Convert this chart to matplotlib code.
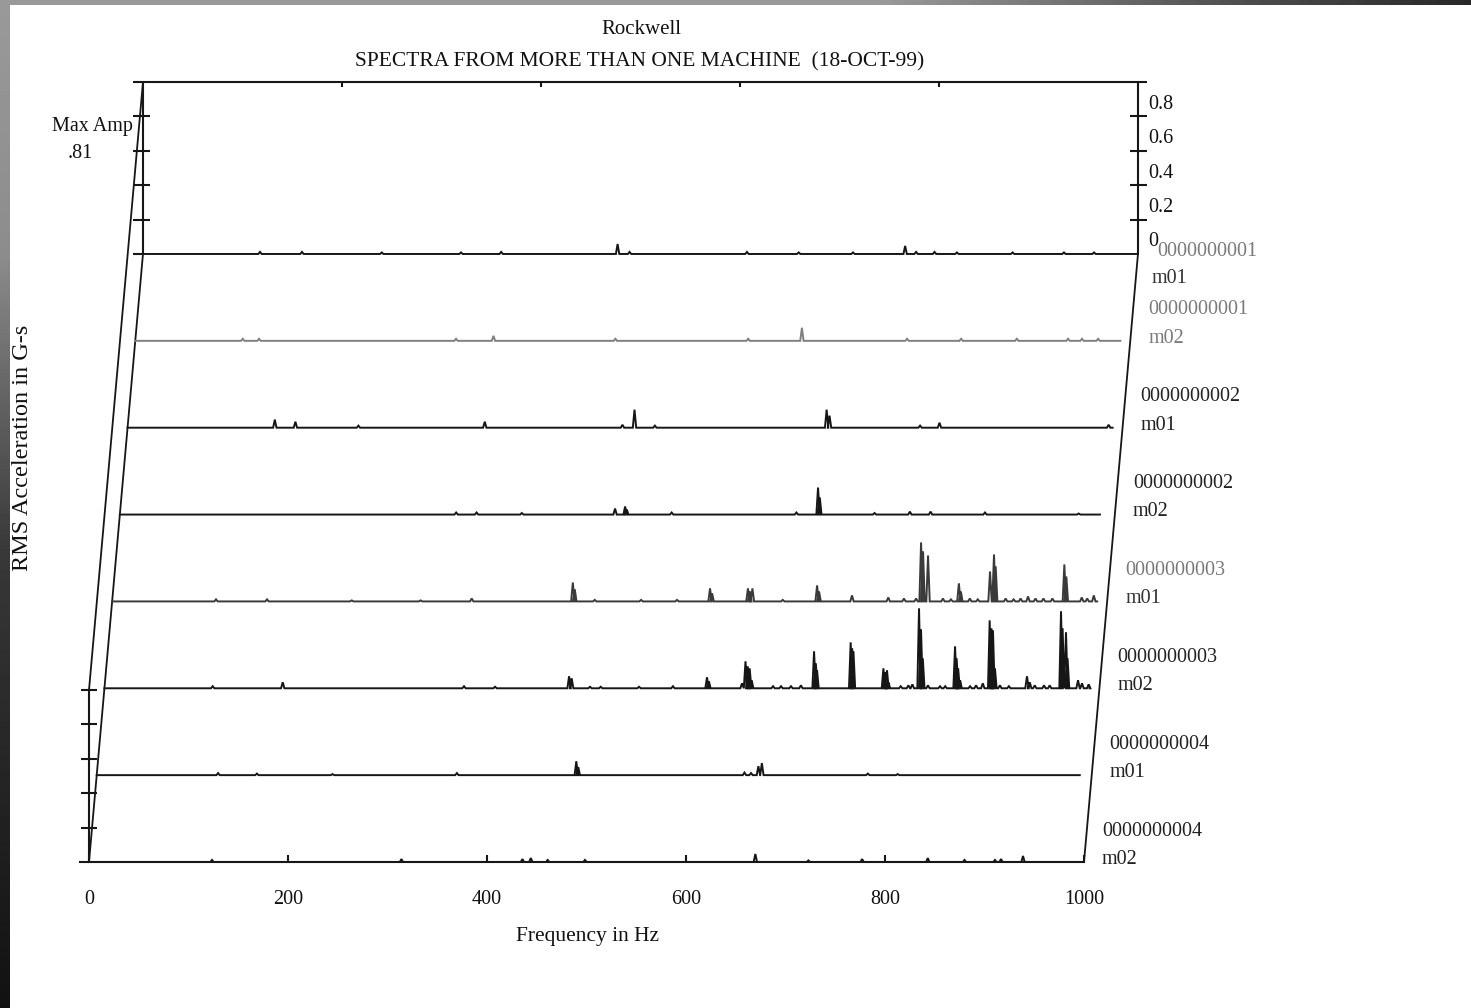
import numpy as np
import matplotlib
matplotlib.use("Agg")
import matplotlib.pyplot as plt

plt.rcParams['font.family'] = ['Liberation Serif', 'DejaVu Serif']

# ---------------- data ----------------
# traces listed back (first) to front (last)
trace_ids = ["0000000001", "0000000001", "0000000002", "0000000002",
             "0000000003", "0000000003", "0000000004", "0000000004"]
trace_meas = ["m01", "m02", "m01", "m02", "m01", "m02", "m01", "m02"]
trace_fmax = [1000, 990, 990, 985, 990, 990, 988, 1000]

freq_ticks = [0, 200, 400, 600, 800, 1000]
amp_ticks = [0, 0.2, 0.4, 0.6, 0.8]
amp_tick_labels = ["0", "0.2", "0.4", "0.6", "0.8"]

# spectral peaks: frequency (Hz) and RMS acceleration (G-s)
pk1_f = [117.6, 159.8, 240, 319.6, 360, 477, 489, 607, 659, 713.6, 766, 777, 795.5, 818, 874, 925.6, 955.8]
pk1_a = [0.012, 0.012, 0.009, 0.009, 0.012, 0.058, 0.012, 0.012, 0.009, 0.009, 0.047, 0.012, 0.012, 0.009, 0.009, 0.009, 0.009]

pk2_f = [108, 124.4, 322.4, 360, 482.5, 616, 670, 775.7, 830, 886, 937.5, 951.5, 967.7]
pk2_a = [0.012, 0.012, 0.012, 0.029, 0.012, 0.012, 0.076, 0.012, 0.012, 0.012, 0.012, 0.012, 0.012]

pk3_f = [148, 168.7, 232, 359, 497.4, 509.5, 530, 702.6, 705.5, 796.5, 816, 986]
pk3_a = [0.047, 0.035, 0.012, 0.035, 0.017, 0.105, 0.012, 0.105, 0.070, 0.012, 0.029, 0.017]

pk4_f = [338, 358.5, 404, 497.7, 507.8, 509.5, 554.6, 680, 701.7, 703.5, 758.5, 794, 814.8, 869.5, 963.6]
pk4_a = [0.012, 0.012, 0.009, 0.035, 0.047, 0.029, 0.012, 0.012, 0.157, 0.099, 0.009, 0.017, 0.017, 0.012, 0.006]

pk5_f = [104.4, 155.7, 240.8, 310, 361.4, 463, 465, 485, 531.6, 567.7, 600.9, 603, 639, 641, 643.5,
         674, 708.5, 710.5, 743.6, 780, 795.8, 808, 813, 815, 820, 835, 843, 851, 853, 862,
         870, 882.3, 886.3, 888, 898, 906, 913, 920.5, 928, 936, 945, 957, 959, 974.5, 980, 986.6]
pk5_a = [0.012, 0.012, 0.006, 0.006, 0.017, 0.110, 0.070, 0.009, 0.009, 0.009, 0.076, 0.047, 0.076, 0.058, 0.076,
         0.009, 0.093, 0.058, 0.035, 0.023, 0.017, 0.017, 0.343, 0.291, 0.267, 0.017, 0.012, 0.105, 0.058, 0.017,
         0.012, 0.174, 0.273, 0.203, 0.017, 0.012, 0.017, 0.029, 0.017, 0.017, 0.017, 0.215, 0.145, 0.023, 0.017, 0.035]

pk6_f = [108.8, 179.2, 361.4, 392.6, 467, 469.6, 488, 498.8, 537.3, 571.4, 605.6, 607.5, 640.8, 644.3, 646.5,
         648.5, 650.5, 672, 680, 690, 700, 713.2, 715, 716.2, 750, 751.5, 752.8, 782.9, 784.5, 786.5,
         788, 800.3, 808, 812, 818.7, 820.7, 822.5, 827.7, 839.8, 845, 854.9, 856.5, 858, 860, 870,
         876, 882.8, 889.7, 891.5, 893, 895, 900, 909, 927.2, 930, 935, 944.3, 950, 961.4, 963,
         966.4, 968, 978.5, 982.5, 989.2]
pk6_a = [0.012, 0.035, 0.012, 0.009, 0.070, 0.058, 0.009, 0.009, 0.009, 0.012, 0.064, 0.041, 0.029, 0.157, 0.128,
         0.116, 0.047, 0.012, 0.012, 0.012, 0.017, 0.215, 0.145, 0.105, 0.267, 0.233, 0.215, 0.116, 0.093, 0.105,
         0.035, 0.012, 0.017, 0.023, 0.465, 0.343, 0.174, 0.017, 0.012, 0.012, 0.244, 0.174, 0.116, 0.047, 0.012,
         0.017, 0.029, 0.395, 0.349, 0.337, 0.116, 0.017, 0.012, 0.070, 0.035, 0.017, 0.017, 0.017, 0.448, 0.349,
         0.326, 0.174, 0.047, 0.029, 0.023]

pk7_f = [122, 161, 237, 362, 482, 484, 651, 657.6, 665, 668.5, 775, 805]
pk7_a = [0.012, 0.009, 0.006, 0.012, 0.081, 0.047, 0.015, 0.012, 0.052, 0.070, 0.009, 0.006]

pk8_f = [123.6, 314, 435.6, 444, 461, 498.5, 669.7, 723, 777, 843, 879.9, 910.5, 916.6, 938.7]
pk8_a = [0.012, 0.017, 0.017, 0.023, 0.012, 0.012, 0.047, 0.009, 0.017, 0.023, 0.012, 0.012, 0.017, 0.035]

peak_freqs = [pk1_f, pk2_f, pk3_f, pk4_f, pk5_f, pk6_f, pk7_f, pk8_f]
peak_amps = [pk1_a, pk2_a, pk3_a, pk4_a, pk5_a, pk6_a, pk7_a, pk8_a]

# ---------------- layout ----------------
W, H, DPI = 1471, 1008, 100
PX_HZ = 0.995          # pixels per Hz
PX_U = 172.0           # pixels per amplitude unit
X0, Y0 = 89.0, 862.0   # pixel position of (0 Hz, 0) on front plane
XL = (-30, 1090)
YL = (-0.3, 4.6)
DX = 7.75              # Hz shift per trace (depth)
DY = 0.505             # amplitude-unit shift per trace (depth)
INK = '#161616'
LW = 1.5
FS = 14.5

fig = plt.figure(figsize=(W / DPI, H / DPI), dpi=DPI)
fig.patch.set_facecolor('white')

# decorative dark frame strips
gl = fig.add_axes([0, 0, 10 / W, 1])
yy = np.linspace(0, 1, 200)
gl.imshow(np.interp(yy, [0, 0.25, 0.55, 1], [0.6, 0.55, 0.22, 0.07])[:, None],
          cmap='gray', vmin=0, vmax=1, aspect='auto', extent=[0, 1, 1, 0])
gl.axis('off')
gt = fig.add_axes([0, 1 - 5 / H, 1, 5 / H])
xx = np.linspace(0, 1, 400)
gt.imshow(np.interp(xx, [0, 0.6, 0.85, 1], [0.6, 0.6, 0.3, 0.16])[None, :],
          cmap='gray', vmin=0, vmax=1, aspect='auto')
gt.axis('off')

left = (X0 + XL[0] * PX_HZ) / W
width = (XL[1] - XL[0]) * PX_HZ / W
bottom = (H - (Y0 - YL[0] * PX_U)) / H
height = (YL[1] - YL[0]) * PX_U / H
ax = fig.add_axes([left, bottom, width, height])
ax.set_xlim(XL)
ax.set_ylim(YL)
ax.patch.set_alpha(0)

for s in ['top', 'right']:
    ax.spines[s].set_visible(False)
for s in ['bottom', 'left']:
    ax.spines[s].set_position(('data', 0))
    ax.spines[s].set_linewidth(LW)
    ax.spines[s].set_color(INK)
ax.spines['bottom'].set_bounds(-9, 1000)
ax.spines['left'].set_bounds(0, 1.0)

ax.set_xticks(freq_ticks)
ax.set_xticklabels([str(t) for t in freq_ticks])
ax.tick_params(axis='x', direction='in', length=5, width=LW, color=INK,
               pad=20, labelsize=FS, labelcolor='#111')
ax.set_yticks([0.2, 0.4, 0.6, 0.8, 1.0])
ax.tick_params(axis='y', direction='inout', length=12, width=LW, color=INK,
               labelleft=False)

# back plane box
n = len(trace_ids)
BX, BY = (n - 1) * DX, (n - 1) * DY
kw = dict(color=INK, lw=LW, solid_capstyle='butt')
ax.plot([BX - 10, BX + 1009], [BY + 1, BY + 1], **kw)
ax.plot([BX, BX], [BY, BY + 1], **kw)
ax.plot([BX + 1000, BX + 1000], [BY, BY + 1], **kw)
ax.plot([BX - 10, BX], [BY, BY], **kw)
for t in amp_ticks[1:]:
    ax.plot([BX - 10, BX + 7], [BY + t, BY + t], **kw)
    ax.plot([BX + 992, BX + 1009], [BY + t, BY + t], **kw)
for f in freq_ticks[1:-1]:
    ax.plot([BX + f, BX + f], [BY + 1, BY + 1 - 0.03], **kw)
for t, lab in zip(amp_ticks, amp_tick_labels):
    ax.text(BX + 1010, BY + t + 0.07, lab, fontsize=FS, ha='left', va='center', color='#111')

# depth connector lines
ax.plot([0, BX], [1, BY + 1], color=INK, lw=1.3)
ax.plot([0, BX], [0, BY], color=INK, lw=1.3)
ax.plot([1000, BX + 1000], [0, BY], color=INK, lw=1.3)

# spectra
HW = 1.7
line_colors = [INK, '#808080', INK, INK, '#3a3a3a', INK, INK, INK]
id_colors = ['#7a7a7a', '#7a7a7a', '#222', '#222', '#7a7a7a', '#222', '#222', '#222']
m_colors = ['#333', '#7a7a7a', '#222', '#222', '#333', '#222', '#222', '#222']
for j in range(n):
    i = n - 1 - j
    fs, am = peak_freqs[j], peak_amps[j]
    xs, ys = [0.0], [0.0]
    for f, a in sorted(zip(fs, am)):
        xs += [f - HW, f, f + HW]
        ys += [0.0, a, 0.0]
    xs.append(trace_fmax[j])
    ys.append(0.0)
    ax.plot(np.array(xs) + i * DX, np.array(ys) + i * DY, color=line_colors[j],
            lw=1.4, solid_joinstyle='miter')
    xe = 1000 + i * DX
    if j == 0:
        ax.text(xe + 19 / PX_HZ, i * DY + 0.015, trace_ids[j], fontsize=FS,
                ha='left', va='center', color=id_colors[j])
        ax.text(xe + 14 / PX_HZ, i * DY - 0.14, trace_meas[j], fontsize=FS,
                ha='left', va='center', color=m_colors[j])
    else:
        ax.text(xe + 18 / PX_HZ, i * DY + 0.18, trace_ids[j], fontsize=FS,
                ha='left', va='center', color=id_colors[j])
        ax.text(xe + 18 / PX_HZ, i * DY + 0.015, trace_meas[j], fontsize=FS,
                ha='left', va='center', color=m_colors[j])

# titles and labels
def ft(x, y, s, **k):
    fig.text(x / W, 1 - y / H, s, **k)

ft(641, 30, "Rockwell", fontsize=15, ha='center', va='center', color='#111')
ft(640, 62, "SPECTRA FROM MORE THAN ONE MACHINE  (18-OCT-99)", fontsize=15.5,
   ha='center', va='center', color='#111')
ft(588, 937, "Frequency in Hz", fontsize=15.5, ha='center', va='center', color='#111')
ft(23, 448, "RMS Acceleration in G-s", fontsize=17.5, ha='center', va='center',
   rotation=90, color='#111')
ft(92, 126, "Max Amp", fontsize=FS, ha='center', va='center', color='#111')
ft(80, 153, ".81", fontsize=FS, ha='center', va='center', color='#111')

fig.savefig("out.png", dpi=DPI, facecolor='white')
